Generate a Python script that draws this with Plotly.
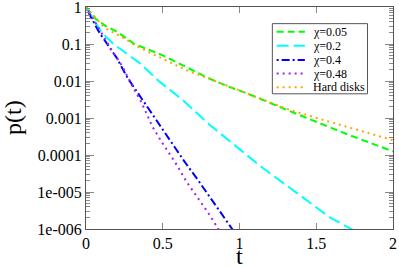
import plotly.graph_objects as go

# chi = 0.05
t_005 = [0.0, 0.062, 0.127, 0.205, 0.316, 0.492, 0.635, 0.778, 0.915, 1.05, 1.287, 1.47, 1.697, 2.0]
p_005 = [1.0, 0.48, 0.31, 0.21, 0.10, 0.051, 0.026, 0.013, 0.0074, 0.0046, 0.0018, 0.00089, 0.00037, 0.000125]
# chi = 0.2
t_02 = [0.0, 0.101, 0.179, 0.348, 0.479, 0.629, 0.805, 0.954, 1.15, 1.371, 1.586, 1.736, 1.76]
p_02 = [1.0, 0.21, 0.10, 0.031, 0.0096, 0.0031, 0.00066, 0.00021, 4.5e-5, 9.6e-6, 2.1e-6, 9.6e-7, 8.5e-7]
# chi = 0.4
t_04 = [0.0, 0.03, 0.088, 0.199, 0.27, 0.368, 0.459, 0.544, 0.642, 0.726, 0.818, 0.902, 0.948, 0.96]
p_04 = [1.0, 0.55, 0.20, 0.043, 0.0123, 0.0031, 0.0009, 0.00026, 6.6e-5, 2.2e-5, 6.2e-6, 2.0e-6, 1.07e-6, 9e-7]
# chi = 0.48
t_048 = [0.0, 0.042, 0.107, 0.166, 0.238, 0.303, 0.362, 0.433, 0.498, 0.59, 0.655, 0.739, 0.805, 0.857, 0.87]
p_048 = [1.0, 0.51, 0.18, 0.070, 0.0245, 0.0071, 0.0026, 0.00058, 0.00021, 5.5e-5, 1.9e-5, 6.2e-6, 2.4e-6, 1.08e-6, 8.5e-7]
# hard disks
t_hd = [0.0, 0.12, 0.23, 0.335, 0.446, 0.564, 0.674, 0.785, 0.935, 1.11, 1.326, 1.586, 1.827, 2.0]
p_hd = [1.0, 0.275, 0.158, 0.085, 0.051, 0.029, 0.018, 0.0123, 0.0071, 0.0037, 0.00166, 0.00079, 0.00040, 0.000252]

series_names = ["χ=0.05", "χ=0.2", "χ=0.4", "χ=0.48", "Hard disks"]
x_title = "t"
y_title = "p(t)"

x_tickvals = [0, 0.5, 1, 1.5, 2]
x_ticktext = ["0", "0.5", "1", "1.5", "2"]
y_tickvals = [1, 0.1, 0.01, 0.001, 0.0001, 1e-5, 1e-6]
y_ticktext = ["1", "0.1", "0.01", "0.001", "0.0001", "1e-005", "1e-006"]
y_minor = [m * 10.0 ** e for e in range(-6, 0) for m in range(2, 10)]

FONT = "Liberation Serif"
AXC = "#555555"
TICKC = "#888888"

fig = go.Figure()
styles = [
    (t_005, p_005, "#00ff00", "7px,4px"),
    (t_02, p_02, "#00ffff", "12px,5px"),
    (t_04, p_04, "#0000ff", "2px,3px,8px,3px"),
    (t_048, p_048, "#a020f0", "2px,4px"),
    (t_hd, p_hd, "#ffa500", "2px,4px"),
]
for (tx, py, col, dash), name in zip(styles, series_names):
    fig.add_trace(go.Scatter(x=tx, y=py, mode="lines", name=name, showlegend=False,
                             line=dict(color=col, width=2, dash=dash)))

# hand-built legend box (compact rows like the original)
shapes = [dict(type="rect", xref="paper", yref="paper", x0=0.607, x1=0.917, y0=0.609, y1=0.925,
               line=dict(color=AXC, width=1), fillcolor="white", layer="above")]
annotations = []
row_y = [0.889, 0.826, 0.761, 0.700, 0.638]
for (tx, py, col, dash), name, ry in zip(styles, series_names, row_y):
    shapes.append(dict(type="line", xref="paper", yref="paper", x0=0.621, x1=0.713, y0=ry, y1=ry,
                       line=dict(color=col, width=2, dash=dash), layer="above"))
    annotations.append(dict(xref="paper", yref="paper", x=0.733, y=ry, xanchor="left", yanchor="middle",
                            text=name, showarrow=False, font=dict(family=FONT, size=12, color="black")))

# axis titles placed as annotations (exact positions)
annotations.append(dict(xref="paper", yref="paper", x=0.5, y=0, xanchor="center", yanchor="middle",
                        yshift=-27, text=x_title, showarrow=False,
                        font=dict(family=FONT, size=24, color="black")))
annotations.append(dict(xref="paper", yref="paper", x=0, y=0.5, xanchor="center", yanchor="middle",
                        xshift=-73, textangle=-90, text=y_title, showarrow=False,
                        font=dict(family=FONT, size=24, color="black")))

fig.update_layout(
    width=399, height=268,
    margin=dict(l=86, r=6, t=7, b=39),
    paper_bgcolor="white", plot_bgcolor="white",
    font=dict(family=FONT, size=16, color="black"),
    showlegend=False,
    shapes=shapes, annotations=annotations,
)
fig.update_xaxes(
    range=[0, 2], tickvals=x_tickvals, ticktext=x_ticktext, automargin=False,
    ticklabeloverflow="allow",
    showline=True, linecolor=AXC, linewidth=1, mirror="allticks",
    ticks="inside", ticklen=6, tickcolor=TICKC, showgrid=False, zeroline=False,
    tickfont=dict(family=FONT, size=16),
)
fig.update_yaxes(
    type="log", range=[-6, 0], tickvals=y_tickvals, ticktext=y_ticktext, automargin=False,
    ticklabeloverflow="allow",
    showline=True, linecolor=AXC, linewidth=1, mirror="allticks",
    ticks="inside", ticklen=8, tickcolor=TICKC, showgrid=False, zeroline=False,
    minor=dict(tickvals=y_minor, ticks="inside", ticklen=4, tickcolor=TICKC),
    tickfont=dict(family=FONT, size=16),
)

fig.write_html("out.html", post_script="document.body.style.margin='0';",
               config={"displayModeBar": False})
